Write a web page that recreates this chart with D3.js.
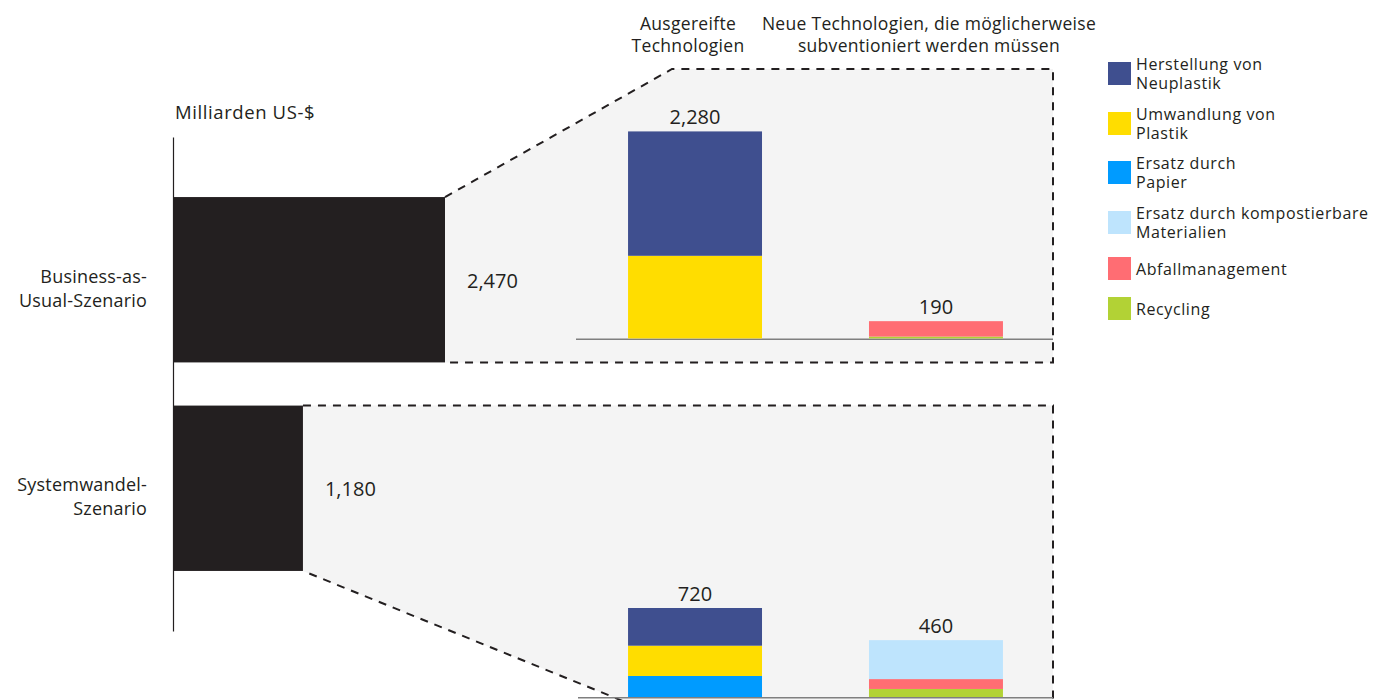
<!DOCTYPE html>
<html>
<head>
<meta charset="utf-8">
<script src="https://cdn.jsdelivr.net/npm/d3@7"></script>
<style>
  html, body { margin: 0; padding: 0; background: #fff; }
  svg { display: block; font-family: "Open Sans", sans-serif; }
</style>
</head>
<body>
<svg id="chart" width="1386" height="700"></svg>
<script>
// ---- data -------------------------------------------------------------
const unitLabel = "Milliarden US-$";

const scenarios = ["Business-as-Usual-Szenario", "Systemwandel-Szenario"];
const scenarioLabelLines = [["Business-as-", "Usual-Szenario"], ["Systemwandel-", "Szenario"]];
const scenarioTotals = [2470, 1180];

const techGroups = ["Ausgereifte Technologien", "Neue Technologien"];
const techGroupLines = [
  ["Ausgereifte", "Technologien"],
  ["Neue Technologien, die möglicherweise", "subventioniert werden müssen"]
];

const categories = [
  "Herstellung von Neuplastik",
  "Umwandlung von Plastik",
  "Ersatz durch Papier",
  "Ersatz durch kompostierbare Materialien",
  "Abfallmanagement",
  "Recycling"
];
const categoryLines = [
  ["Herstellung von", "Neuplastik"],
  ["Umwandlung von", "Plastik"],
  ["Ersatz durch", "Papier"],
  ["Ersatz durch kompostierbare", "Materialien"],
  ["Abfallmanagement"],
  ["Recycling"]
];
const categoryColors = ["#3f4f8f", "#ffdd00", "#009bff", "#bee4fd", "#ff6d73", "#b2d235"];

// values per category (same order as `categories`)
const bauMature = [1370, 910, 0, 0, 0, 0];
const bauEmerging = [0, 0, 0, 0, 170, 20];
const swMature = [305, 245, 170, 0, 0, 0];
const swEmerging = [0, 0, 0, 315, 80, 65];

const scenarioBreakdown = [[bauMature, bauEmerging], [swMature, swEmerging]];

// ---- layout -----------------------------------------------------------
const ink = "#231f20";
const panelFill = "#f4f4f4";
const panelRight = 1053;
const panelCornerX = 672;
const panelLayout = [
  { top: 69, bottom: null, maxBar: 207, axisStart: 576 },
  { top: null, bottom: 721, maxBar: 89, axisStart: 578 }
];
const baselineInset = 24;

const svg = d3.select("#chart");
const fmt = d3.format(",");

const xLeft = d3.scaleLinear().domain([0, d3.max(scenarioTotals)]).range([173, 445]);
const yBand = d3.scaleBand().domain(scenarios).range([137, 631])
  .paddingInner(0.207).paddingOuter(0.288);
const xInner = d3.scaleBand().domain(techGroups).range([576, 1055])
  .paddingInner(0.444).paddingOuter(0.216);
const color = d3.scaleOrdinal().domain(categories).range(categoryColors);

// ---- zoom panels ------------------------------------------------------
scenarios.forEach((s, i) => {
  const barRight = xLeft(scenarioTotals[i]);
  const barTop = yBand(s);
  const barBottom = barTop + yBand.bandwidth();
  const L = panelLayout[i];
  const pTop = L.top == null ? barTop : L.top;
  const pBottom = L.bottom == null ? barBottom : L.bottom;

  const pts = [
    [barRight, barTop],
    [pTop === barTop ? barRight : panelCornerX, pTop],
    [panelRight, pTop],
    [panelRight, pBottom],
    [pBottom === barBottom ? barRight : panelCornerX, pBottom],
    [barRight, barBottom]
  ];

  const g = svg.append("g").attr("class", "panel");
  g.append("path")
    .attr("d", d3.line()(pts) + "Z")
    .attr("fill", panelFill);
  g.append("path")
    .attr("d", d3.line()(pts))
    .attr("fill", "none")
    .attr("stroke", ink)
    .attr("stroke-width", 2)
    .attr("stroke-dasharray", "8,7");

  const baseline = pBottom - baselineInset;
  const groupTotals = scenarioBreakdown[i].map(v => d3.sum(v));
  const yInner = d3.scaleLinear()
    .domain([0, d3.max(groupTotals)])
    .range([baseline, baseline - L.maxBar]);

  g.append("line")
    .attr("x1", L.axisStart).attr("x2", panelRight)
    .attr("y1", baseline + 0.75).attr("y2", baseline + 0.75)
    .attr("stroke", "#7f7f7f")
    .attr("stroke-width", 1.5);

  techGroups.forEach((tg, j) => {
    const vals = scenarioBreakdown[i][j];
    // stack from the last category at the bottom up to the first on top
    let acc = 0;
    const segs = [];
    for (let k = categories.length - 1; k >= 0; k--) {
      if (vals[k] > 0) {
        segs.push({ cat: categories[k], y0: acc, y1: acc + vals[k] });
        acc += vals[k];
      }
    }
    g.selectAll(null).data(segs).enter().append("rect")
      .attr("x", xInner(tg))
      .attr("width", xInner.bandwidth())
      .attr("y", d => yInner(d.y1))
      .attr("height", d => yInner(d.y0) - yInner(d.y1))
      .attr("fill", d => color(d.cat));

    g.append("text")
      .attr("x", xInner(tg) + xInner.bandwidth() / 2)
      .attr("y", yInner(acc) - 7)
      .attr("text-anchor", "middle")
      .attr("font-size", 20)
      .attr("fill", ink)
      .text(fmt(acc));
  });
});

// ---- column headings -------------------------------------------------
techGroups.forEach((tg, j) => {
  const cx = xInner(tg) + xInner.bandwidth() / 2 - 7;
  const t = svg.append("text")
    .attr("text-anchor", "middle")
    .attr("font-size", 17.5)
    .attr("letter-spacing", 0.3)
    .attr("fill", ink);
  techGroupLines[j].forEach((line, k) => {
    t.append("tspan").attr("x", cx).attr("y", 30 + k * 22).text(line);
  });
});

// ---- scenario bars ---------------------------------------------------
svg.selectAll(".scen").data(scenarios).enter().append("rect")
  .attr("class", "scen")
  .attr("x", xLeft(0))
  .attr("y", d => yBand(d))
  .attr("width", (d, i) => xLeft(scenarioTotals[i]) - xLeft(0))
  .attr("height", yBand.bandwidth())
  .attr("fill", ink);

svg.selectAll(".scenval").data(scenarios).enter().append("text")
  .attr("class", "scenval")
  .attr("x", (d, i) => xLeft(scenarioTotals[i]) + 22)
  .attr("y", d => yBand(d) + yBand.bandwidth() / 2 + 8)
  .attr("font-size", 20)
  .attr("fill", ink)
  .text((d, i) => fmt(scenarioTotals[i]));

const yAxis = svg.append("g")
  .attr("transform", `translate(${xLeft(0)},0)`)
  .call(d3.axisLeft(yBand).tickSize(0).tickFormat(""));
yAxis.select(".domain").attr("stroke", ink).attr("stroke-width", 1.2);
yAxis.selectAll(".tick").remove();

scenarios.forEach((s, i) => {
  const cy = yBand(s) + yBand.bandwidth() / 2;
  const t = svg.append("text")
    .attr("text-anchor", "end")
    .attr("font-size", 18)
    .attr("letter-spacing", 0.2)
    .attr("fill", ink);
  scenarioLabelLines[i].forEach((line, k) => {
    t.append("tspan").attr("x", 147).attr("y", cy + 3 + k * 24).text(line);
  });
});

svg.append("text")
  .attr("x", 175).attr("y", 119)
  .attr("font-size", 18.5)
  .attr("letter-spacing", 0.6)
  .attr("fill", ink)
  .text(unitLabel);

// ---- legend ----------------------------------------------------------
const legendRowY = [62, 112, 161, 211, 257, 297];
const lg = svg.append("g").attr("class", "legend");
categories.forEach((c, i) => {
  const top = legendRowY[i];
  lg.append("rect")
    .attr("x", 1108).attr("y", top)
    .attr("width", 23).attr("height", 23)
    .attr("fill", color(c));
  const lines = categoryLines[i];
  const cy = top + 11.5;
  lines.forEach((line, k) => {
    const y = lines.length === 1 ? cy + 6 : cy - 3.5 + k * 19;
    lg.append("text")
      .attr("x", 1136).attr("y", y)
      .attr("font-size", 16)
      .attr("letter-spacing", 0.6)
      .attr("fill", ink)
      .text(line);
  });
});
</script>
</body>
</html>
